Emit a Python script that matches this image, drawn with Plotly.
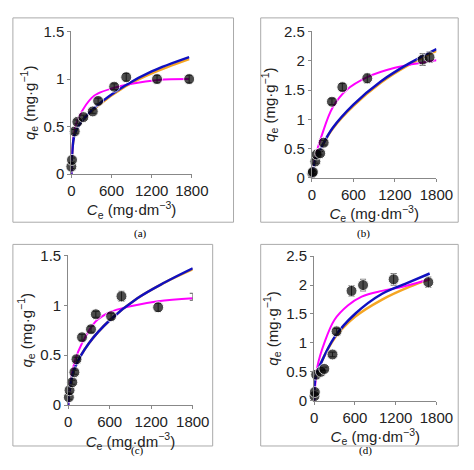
import plotly.graph_objects as go

# Experimental points per panel (Ce, qe, error)
a_x = [0, 10, 50, 90, 180, 320, 400, 640, 820, 1280, 1760]
a_y = [0.08, 0.15, 0.45, 0.55, 0.6, 0.66, 0.77, 0.92, 1.02, 1.0, 1.0]
a_e = [0.02, 0.02, 0.02, 0.02, 0.02, 0.02, 0.03, 0.03, 0.04, 0.04, 0.04]
b_x = [5, 15, 50, 70, 120, 170, 290, 440, 800, 1600, 1700]
b_y = [0.08, 0.1, 0.28, 0.4, 0.42, 0.6, 1.3, 1.55, 1.7, 2.02, 2.06]
b_e = [0.03, 0.03, 0.03, 0.03, 0.03, 0.04, 0.05, 0.06, 0.08, 0.1, 0.09]
c_x = [10, 20, 60, 90, 120, 200, 330, 400, 620, 770, 1300, 1800]
c_y = [0.08, 0.15, 0.23, 0.33, 0.46, 0.68, 0.76, 0.91, 0.89, 1.09, 0.98, 1.085]
c_e = [0.02, 0.02, 0.02, 0.02, 0.02, 0.03, 0.03, 0.03, 0.03, 0.05, 0.04, 0.035]
d_x = [5, 10, 30, 100, 150, 270, 330, 550, 720, 1170, 1680]
d_y = [0.08, 0.15, 0.45, 0.5, 0.55, 0.8, 1.2, 1.9, 2.0, 2.1, 2.05]
d_e = [0.03, 0.03, 0.03, 0.03, 0.03, 0.04, 0.05, 0.09, 0.1, 0.1, 0.09]

# Fitted curves
a_cx = [0, 20, 60, 150, 300, 400, 600, 900, 1300, 1760]
a_mag = [0, 0.3, 0.5, 0.65, 0.8, 0.85, 0.9, 0.95, 0.99, 1.0]
a_bx = [0, 10, 50, 150, 400, 800, 1200, 1760]
a_blue = [0, 0.2, 0.42, 0.55, 0.73, 0.93, 1.08, 1.23]
a_orng = [0, 0.2, 0.42, 0.55, 0.72, 0.92, 1.06, 1.21]

b_cx = [0, 50, 150, 300, 500, 800, 1200, 1800]
b_mag = [0, 0.35, 0.75, 1.2, 1.5, 1.72, 1.88, 2.01]
b_bx = [0, 50, 150, 300, 600, 1000, 1400, 1800]
b_blue = [0, 0.3, 0.55, 0.85, 1.25, 1.65, 1.95, 2.2]
b_orng = [0, 0.3, 0.55, 0.84, 1.23, 1.63, 1.93, 2.17]

c_cx = [0, 50, 100, 200, 400, 600, 900, 1300, 1800]
c_mag = [0, 0.3, 0.45, 0.62, 0.84, 0.93, 0.99, 1.04, 1.07]
c_bx = [0, 20, 100, 300, 600, 1000, 1400, 1800]
c_blue = [0, 0.15, 0.38, 0.62, 0.85, 1.07, 1.23, 1.37]
c_orng = [0, 0.15, 0.38, 0.62, 0.85, 1.07, 1.23, 1.36]

d_cx = [0, 50, 150, 300, 500, 700, 1000, 1300, 1700]
d_mag = [0, 0.6, 1.0, 1.4, 1.65, 1.8, 1.9, 1.97, 2.1]
d_bx = [0, 20, 100, 300, 600, 1000, 1400, 1700]
d_blue = [0, 0.4, 0.65, 1.1, 1.5, 1.85, 2.05, 2.2]
d_orng = [0, 0.4, 0.65, 1.08, 1.45, 1.75, 1.97, 2.1]

panels = [
    ("", a_x, a_y, a_e, a_cx, a_mag, a_bx, a_blue, a_orng, [0.131, 0.397], [0.653, 0.968], 1.5),
    ("2", b_x, b_y, b_e, b_cx, b_mag, b_bx, b_blue, b_orng, [0.662, 0.937], [0.645, 0.968], 2.5),
    ("3", c_x, c_y, c_e, c_cx, c_mag, c_bx, c_blue, c_orng, [0.124, 0.399], [0.143, 0.474], 1.5),
    ("4", d_x, d_y, d_e, d_cx, d_mag, d_bx, d_blue, d_orng, [0.667, 0.937], [0.153, 0.472], 2.5),
]

fig = go.Figure()
font = dict(family="Liberation Sans, Arial", size=15, color="#222")

for s, px_, py_, pe, cx, mag, bx, blue, orng, dx, dy, ymax in panels:
    xa, ya = "x" + s, "y" + s
    fig.add_trace(go.Scatter(x=bx, y=orng, mode="lines", line=dict(color="#f5a623", width=2.5, shape="spline"),
                             xaxis=xa, yaxis=ya, showlegend=False))
    fig.add_trace(go.Scatter(x=cx, y=mag, mode="lines", line=dict(color="#ff00ff", width=2, shape="spline"),
                             xaxis=xa, yaxis=ya, showlegend=False))
    fig.add_trace(go.Scatter(x=bx, y=blue, mode="lines", line=dict(color="#1010c0", width=2.5, shape="spline"),
                             xaxis=xa, yaxis=ya, showlegend=False))
    sizes = [11] * len(px_)
    if s == "3":
        sizes[-1] = 0
    fig.add_trace(go.Scatter(x=px_, y=py_, mode="markers", marker=dict(color="black", size=sizes),
                             error_y=dict(type="data", array=pe, color="#555", thickness=1, width=3),
                             xaxis=xa, yaxis=ya, showlegend=False, cliponaxis=False))
    axn = s
    fig.layout["xaxis" + axn] = dict(domain=dx, anchor=ya, range=[0, 1800], tickvals=[0, 600, 1200, 1800],
                                     showgrid=False, zeroline=False, showline=True, linecolor="#888",
                                     ticks="outside", ticklen=3, tickcolor="#888", tickfont=font,
                                     title=dict(text="<i>C</i><sub>e</sub> (mg·dm<sup>−3</sup>)", font=font, standoff=2))
    fig.layout["yaxis" + axn] = dict(domain=dy, anchor=xa, range=[0, ymax], dtick=0.5,
                                     showgrid=False, zeroline=False, showline=True, linecolor="#888",
                                     ticks="outside", ticklen=3, tickcolor="#888", tickfont=font,
                                     title=dict(text="<i>q</i><sub>e</sub> (mg·g<sup>−1</sup>)", font=font, standoff=4))

# panel frames and labels
frames = [(0.002, 0.489, 0.547, 0.998), (0.549, 0.985, 0.547, 0.998),
          (0.002, 0.443, 0.053, 0.498), (0.549, 0.985, 0.053, 0.498)]
for x0, x1, y0, y1 in frames:
    fig.add_shape(type="rect", xref="paper", yref="paper", x0=x0, x1=x1, y0=y0, y1=y1,
                  line=dict(color="#aaa", width=1))
labels = [("(a)", 0.265, 0.522), ("(b)", 0.795, 0.522), ("(c)", 0.258, 0.025), ("(d)", 0.8, 0.025)]
for t, x, y in labels:
    fig.add_annotation(text=t, x=x, y=y, xref="paper", yref="paper", showarrow=False,
                       font=dict(family="Liberation Serif", size=11, color="black"))

fig.update_layout(width=474, height=470, margin=dict(l=0, r=0, t=0, b=0),
                  plot_bgcolor="white", paper_bgcolor="white")
fig.write_html("out.html")
